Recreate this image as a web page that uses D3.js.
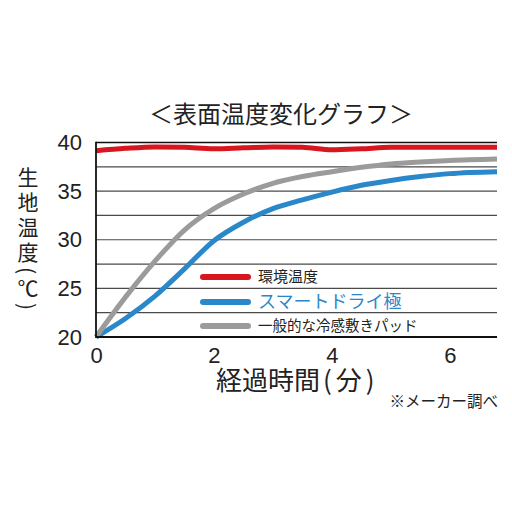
<!DOCTYPE html>
<html>
<head>
<meta charset="utf-8">
<script src="https://cdn.jsdelivr.net/npm/d3@7"></script>
<style>
  html, body { margin: 0; padding: 0; background: #fff; }
  svg { display: block; }
</style>
</head>
<body>
<div id="chart"></div>
<script>
// minutes elapsed
const minutes = [0, 0.5, 1, 1.5, 2, 2.5, 3, 3.5, 4, 4.5, 5, 5.5, 6, 6.8];
// surface temperature (°C)
const ambientTemp = [39.15, 39.4, 39.55, 39.5, 39.35, 39.45, 39.55, 39.5, 39.25, 39.35, 39.5, 39.5, 39.5, 39.5];
const smartDryTemp = [20, 21.9, 24.2, 27.0, 29.9, 31.8, 33.2, 34.1, 34.9, 35.6, 36.1, 36.5, 36.8, 37.0];
const coolPadTemp = [20, 24.1, 27.8, 31.0, 33.2, 34.7, 35.8, 36.5, 37.0, 37.45, 37.8, 38.0, 38.15, 38.3];

const xTicks = [0, 2, 4, 6];
const yTicks = [20, 25, 30, 35, 40];
const gridValues = [22.5, 25, 27.5, 30, 32.5, 35, 37.5];
const seriesNames = ["環境温度", "スマートドライ極", "一般的な冷感敷きパッド"];

const titleText = "＜表面温度変化グラフ＞";
const yLabelText = "生地温度(℃)";
const xLabelMain = "経過時間";
const xLabelUnit = "(分)";
const noteText = "※メーカー調べ";

const width = 512, height = 512;
const jp = "'Noto Sans CJK JP', 'Noto Sans', sans-serif";
const num = "'Liberation Sans', Arial, sans-serif";
const colors = ["#d7161f", "#2a87c9", "#9b9b9b"];

const x = d3.scaleLinear().domain([0, 6.8]).range([96, 497]);
const y = d3.scaleLinear().domain([20, 40]).range([337, 142.5]);

const svg = d3.select("#chart").append("svg")
    .attr("width", width)
    .attr("height", height)
    .attr("viewBox", [0, 0, width, height]);

svg.append("text")
    .attr("x", 281)
    .attr("y", 123)
    .attr("text-anchor", "middle")
    .style("font", `24px ${jp}`)
    .attr("fill", "#222")
    .text(titleText);

// horizontal grid
svg.append("g")
    .selectAll("line")
    .data(gridValues)
    .join("line")
    .attr("x1", x(0))
    .attr("x2", x(6.8))
    .attr("y1", d => y(d))
    .attr("y2", d => y(d))
    .attr("stroke", "#4a4a4a")
    .attr("stroke-width", 1.2);

// top border line at 40
svg.append("line")
    .attr("x1", x(0)).attr("x2", x(6.8))
    .attr("y1", y(40)).attr("y2", y(40))
    .attr("stroke", "#111").attr("stroke-width", 1.5);

// series
const line = d3.line()
    .x((d, i) => x(minutes[i]))
    .y(d => y(d))
    .curve(d3.curveMonotoneX);

[ambientTemp, smartDryTemp, coolPadTemp].forEach((values, i) => {
    svg.append("path")
        .datum(values)
        .attr("fill", "none")
        .attr("stroke", colors[i])
        .attr("stroke-width", 5)
        .attr("d", line);
});

// axes
const yAxis = svg.append("g")
    .attr("transform", `translate(${x(0)},0)`)
    .call(d3.axisLeft(y).tickValues(yTicks).tickSize(0).tickPadding(14));
yAxis.select(".domain").remove();
yAxis.selectAll("text").style("font", `22px ${num}`).attr("fill", "#222");

const xAxis = svg.append("g")
    .attr("transform", `translate(0,${y(20)})`)
    .call(d3.axisBottom(x).tickValues(xTicks).tickFormat(d3.format("d")).tickSize(0).tickPadding(10));
xAxis.select(".domain").remove();
xAxis.selectAll("text").style("font", `22px ${num}`).attr("fill", "#222");

svg.append("line")
    .attr("x1", x(0)).attr("x2", x(6.8))
    .attr("y1", y(20)).attr("y2", y(20))
    .attr("stroke", "#111").attr("stroke-width", 2.2);
svg.append("line")
    .attr("x1", x(0)).attr("x2", x(0))
    .attr("y1", y(40) - 0.7).attr("y2", y(20) + 1.1)
    .attr("stroke", "#111").attr("stroke-width", 1.8);

// legend
const legend = svg.append("g");
const legendRows = [277, 302, 326];
const legendFonts = ["15px", "18px", "14.5px"];
seriesNames.forEach((name, i) => {
    legend.append("line")
        .attr("x1", 203).attr("x2", 248)
        .attr("y1", legendRows[i]).attr("y2", legendRows[i])
        .attr("stroke", colors[i])
        .attr("stroke-width", 6)
        .attr("stroke-linecap", "round");
    legend.append("text")
        .attr("x", 258)
        .attr("y", legendRows[i])
        .attr("dy", "0.36em")
        .style("font", `${legendFonts[i]} ${jp}`)
        .attr("fill", i === 1 ? colors[1] : "#222")
        .text(name);
});

// y axis label, vertical
svg.append("text")
    .attr("x", 28)
    .attr("y", 167)
    .style("writing-mode", "vertical-rl")
    .style("font", `21px ${jp}`)
    .attr("letter-spacing", 4)
    .attr("fill", "#222")
    .text(yLabelText);

const xLabel = svg.append("text")
    .attr("x", 216)
    .attr("y", 390)
    .style("font", `26px ${jp}`)
    .attr("fill", "#222");
xLabel.append("tspan").text(xLabelMain);
xLabel.append("tspan")
    .attr("dx", 3)
    .attr("letter-spacing", 4)
    .text(xLabelUnit);

svg.append("text")
    .attr("x", 498)
    .attr("y", 407)
    .attr("text-anchor", "end")
    .style("font", `15.5px ${jp}`)
    .attr("fill", "#222")
    .text(noteText);
</script>
</body>
</html>
